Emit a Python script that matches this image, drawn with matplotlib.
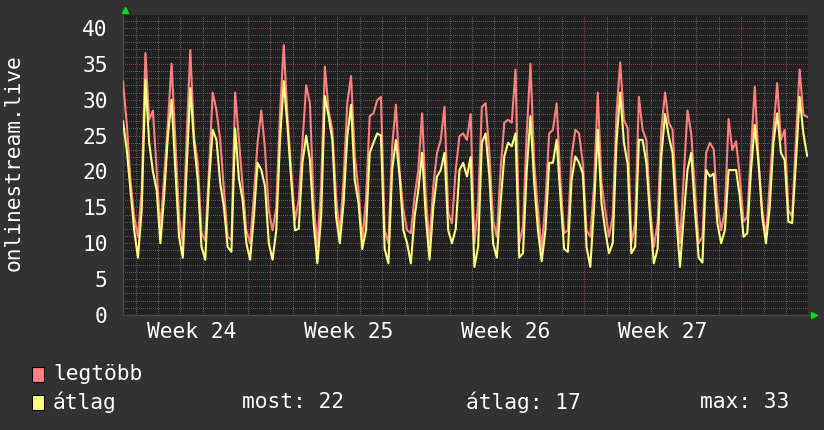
import pandas as pd
import matplotlib

matplotlib.use("Agg")
import matplotlib.pyplot as plt
from matplotlib.patches import Rectangle

# ------------------------------------------------------------
# data: 4-hour samples
# ------------------------------------------------------------
START = "2023-06-12 10:30"
STEP = "4h"
SPAN_DAYS = 30.54

legtobb = [
    32.5, 26.7, 18.8, 13.7, 10.9, 17.4, 36.5, 27.2, 28.5, 20.2,
    11.8, 19.3, 26.7, 35.0, 24.4, 13.7, 10.0, 24.4, 36.9, 24.9,
    21.2, 11.4, 10.4, 20.2, 31.0, 28.5, 24.4, 17.4, 10.9, 10.4, 31.0,
    24.5, 18.0, 11.8, 10.0, 16.5, 24.0, 28.5, 23.0, 14.6, 11.8,
    15.0, 28.1, 37.6, 27.7, 20.2, 13.2, 16.0, 24.0, 32.0, 29.5,
    15.6, 9.5, 18.0, 34.6, 28.5, 25.8, 16.5, 11.4, 18.8, 29.5, 33.3,
    22.2, 17.4, 10.4, 16.0, 27.7, 28.1, 29.9, 30.4, 11.8, 10.0,
    23.5, 29.3, 20.0, 14.6, 11.8, 11.4, 16.5, 20.2, 28.1, 16.5,
    10.0, 18.0, 22.6, 24.4, 29.0, 14.2, 12.8, 20.2, 24.9, 25.3,
    24.4, 28.0, 10.0, 15.6, 29.0, 29.5, 22.6, 13.2, 10.9, 20.2,
    26.8, 27.2, 26.8, 34.2, 10.0, 12.3, 25.3, 35.0, 21.2, 14.6,
    9.2, 15.6, 25.3, 25.8, 29.5, 18.8, 11.4, 11.8, 22.1, 25.8, 25.3,
    21.2, 11.8, 10.9, 18.0, 31.0, 18.4, 14.6, 10.9, 13.7, 28.0,
    35.2, 27.2, 26.0, 10.0, 12.8, 30.4, 25.8, 24.4, 15.0, 9.5,
    12.8, 25.8, 31.0, 26.8, 25.8, 16.5, 10.0, 19.3, 28.5, 25.3,
    17.4, 10.0, 10.9, 22.6, 24.0, 23.1, 15.6, 11.8, 14.6, 27.3,
    23.0, 24.2, 19.3, 13.0, 13.7, 23.1, 31.8, 21.6, 14.6, 10.9,
    18.4, 25.8, 32.3, 24.4, 25.8, 14.6, 13.7, 24.4, 34.2, 27.9, 27.6,
]
atlag = [
    27.0, 23.0, 17.4, 11.8, 8.0, 14.6, 32.8, 24.0, 20.0, 17.4,
    10.0, 16.5, 24.9, 30.0, 20.2, 10.9, 8.0, 20.2, 31.6, 24.0,
    18.8, 9.5, 7.7, 18.4, 25.8, 24.4, 18.4, 15.0, 9.5, 8.8, 26.0,
    19.0, 16.0, 10.0, 7.7, 13.7, 21.2, 20.2, 17.9, 10.0, 7.7,
    11.8, 24.4, 32.6, 26.3, 18.8, 11.8, 12.0, 21.2, 25.0, 21.6,
    12.8, 7.2, 13.7, 30.5, 27.7, 24.4, 13.7, 10.0, 15.6, 24.9, 29.3,
    18.8, 15.6, 9.2, 11.8, 22.6, 24.0, 25.3, 25.0, 9.2, 7.2,
    20.2, 24.4, 19.3, 11.8, 10.0, 7.2, 13.7, 17.4, 22.6, 13.7,
    7.7, 15.0, 19.3, 20.2, 22.6, 11.8, 10.0, 12.0, 20.2, 21.2,
    19.3, 22.0, 6.7, 9.5, 24.0, 25.3, 19.3, 10.0, 8.0, 15.6,
    22.1, 24.0, 23.5, 25.3, 8.0, 8.6, 20.2, 27.7, 18.4, 11.8,
    7.5, 11.8, 21.2, 21.2, 24.4, 16.5, 9.2, 8.8, 18.8, 22.1, 21.2,
    19.7, 9.5, 6.7, 15.0, 25.8, 15.6, 11.8, 8.6, 10.0, 24.0,
    31.0, 24.0, 21.0, 8.6, 9.5, 24.4, 24.4, 21.2, 13.7, 7.2,
    9.2, 22.1, 28.0, 24.9, 22.6, 13.7, 6.7, 13.7, 20.2, 22.6,
    14.6, 8.0, 7.3, 20.2, 19.3, 19.7, 12.8, 10.0, 11.8, 20.2,
    20.2, 20.2, 16.5, 10.9, 11.4, 20.2, 26.5, 21.2, 13.7, 10.0,
    15.0, 24.0, 28.1, 22.6, 21.6, 13.0, 12.8, 21.2, 30.4, 25.3, 22.2,
]
y_ticks = [0, 5, 10, 15, 20, 25, 30, 35, 40]
y_label = "onlinestream.live"
legend_names = ["legtöbb", "átlag"]
stat_labels = ["most: 22", "átlag: 17", "max: 33"]

# ------------------------------------------------------------
# style (rrdtool dark look)
# ------------------------------------------------------------
BG = "#323232"
PLOT_BG = "#222222"
RED = "#ff8080"
YELLOW = "#ffff80"
GRID_MINOR = "#5c5c5c"
GRID_MAJOR = "#8c3c3c"
FONT = ["DejaVu Sans Mono"]
FS = 15.3
W, H = 824, 430

plt.rcParams["font.family"] = FONT

t = pd.date_range(START, periods=len(legtobb), freq=STEP)
t0 = t[0]
t1 = t0 + pd.Timedelta(days=SPAN_DAYS)

fig = plt.figure(figsize=(W / 100, H / 100), dpi=100, facecolor=BG)
ax = fig.add_axes([123 / W, 115 / H, 685 / W, 300 / H])
ax.set_facecolor(PLOT_BG)
ax.set_xlim(t0, t1)
ax.set_ylim(0, 41.8)

# grid: dotted (1 px on, 2 px off), 1 per unit / per day, red every 5 units / every week
dots = (0, (1, 2))
for v in range(1, 42):
    ax.axhline(v, color=GRID_MAJOR if v % 5 == 0 else GRID_MINOR,
               lw=0.72, ls=dots, antialiased=False, zorder=1)
for d in pd.date_range(t0.normalize() + pd.Timedelta(days=1), t1, freq="D"):
    ax.axvline(d, color=GRID_MAJOR if d.weekday() == 0 else GRID_MINOR,
               lw=0.72, ls=dots, antialiased=False, zorder=1)

ax.plot(t, legtobb, color=RED, lw=1.5, zorder=3)
ax.plot(t, atlag, color=YELLOW, lw=1.5, zorder=4)

# week labels centred in each week
mondays = pd.date_range(t0.normalize() - pd.Timedelta(days=t0.weekday()), t1, freq="7D")
mids = [m + pd.Timedelta(days=3.5) for m in mondays if t0 <= m + pd.Timedelta(days=3.5) <= t1]
ax.set_xticks(mids)
ax.set_xticklabels([f"Week {m.isocalendar()[1]}" for m in mids])
ax.set_yticks(y_ticks)
ax.tick_params(axis="both", length=0, colors="white", labelsize=FS)
ax.tick_params(axis="y", pad=11)
ax.tick_params(axis="x", pad=5)

for s in ("top", "right"):
    ax.spines[s].set_visible(False)
for s in ("left", "bottom"):
    ax.spines[s].set_color("#484848")
    ax.spines[s].set_linewidth(1.0)

# little green arrow heads at the ends of the axes
ax.plot([0.003], [1.017], marker="^", ms=4, color="#00dd00",
        transform=ax.transAxes, clip_on=False)
ax.plot([1.009], [0.0], marker=">", ms=4, color="#00dd00",
        transform=ax.transAxes, clip_on=False)

fig.text(14 / W, 1 - 163 / H, y_label, rotation=90, ha="center", va="center",
         color="white", fontsize=FS)

# legend
for row, (name, col) in enumerate(zip(legend_names, [RED, YELLOW])):
    yc = 374 + row * 28
    fig.patches.append(Rectangle((32 / W, 1 - (yc + 7.5) / H), 12 / W, 15 / H,
                                 transform=fig.transFigure, facecolor=col,
                                 edgecolor="black", lw=0.8))
    fig.text(53 / W, 1 - yc / H, name, ha="left", va="center",
             color="white", fontsize=FS)
for x, lab in zip([242, 466, 700], stat_labels):
    fig.text(x / W, 1 - 402 / H, lab, ha="left", va="center",
             color="white", fontsize=FS)

fig.savefig("out.png", dpi=100, facecolor=BG)
